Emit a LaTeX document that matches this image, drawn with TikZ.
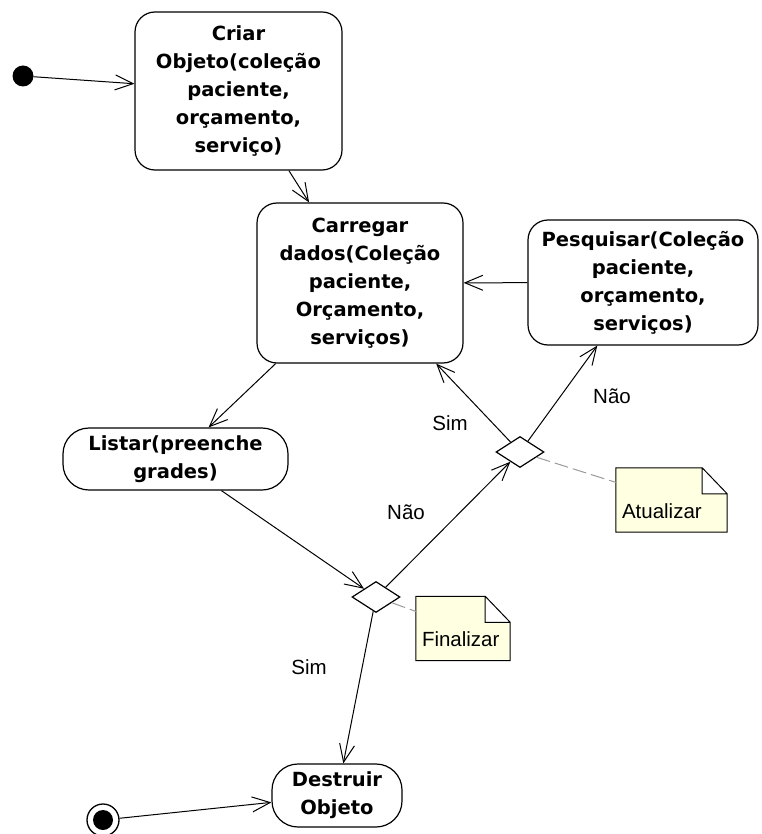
\documentclass[tikz,border=0pt]{standalone}
\usepackage{fontspec}
\setmainfont{Liberation Sans}
\newfontfamily\boxfont{DejaVu Sans}
\usepackage{tikz}
\usetikzlibrary{arrows.meta,positioning,shapes.geometric,backgrounds}
\definecolor{notefill}{RGB}{255,255,225}
\definecolor{tieline}{gray}{0.6}

\begin{document}
\begin{tikzpicture}[x=1pt,y=-1pt,
  estado/.style={draw,line width=1.2pt,rounded corners=20pt,align=center,inner sep=0pt,font=\boxfont\bfseries\fontsize{19.5}{28}\selectfont},
  atividade/.style={estado,rounded corners=26pt},
  escolha/.style={draw,line width=1.2pt,diamond,inner sep=0pt,minimum width=48pt,minimum height=31pt},
  nota/.style={align=left,inner xsep=6pt,inner ysep=14pt,text height=36pt,text depth=0pt,font=\fontsize{20.5}{24}\selectfont},
  guarda/.style={font=\fontsize{20.5}{24}\selectfont},
  fluxo/.style={line width=1pt,-{Straight Barb[length=18pt,width=15pt]}},
  ligacao/.style={draw=tieline,line width=1pt,dash pattern=on 14pt off 5pt}]
\useasboundingbox (0,0) rectangle (761,834);
\node[circle,fill,minimum size=21pt,inner sep=0pt] (inicio) at (23,76) {};
\node[estado,minimum width=207pt,minimum height=158pt] (criar) at (238.5,91) {Criar\\Objeto(coleção\\paciente,\\orçamento,\\serviço)};
\node[estado,minimum width=206pt,minimum height=160pt] (carregar) at (360,283) {Carregar\\dados(Coleção\\paciente,\\Orçamento,\\serviços)};
\node[estado,minimum width=230pt,minimum height=125pt] (pesquisar) at (643,282.5) {Pesquisar(Coleção\\paciente,\\orçamento,\\serviços)};
\node[atividade,minimum width=225pt,minimum height=62pt] (listar) at (175.5,459) {Listar(preenche\\grades)};
\node[escolha] (atualiza) at (520,452) {};
\node[escolha] (finaliza) at (376,597) {};
\node[nota,text width=99pt] (natualizar) at (671.5,500) {Atualizar};
\node[nota,text width=82pt] (nfinalizar) at (463,628.5) {Finalizar};
\node[atividade,minimum width=130pt,minimum height=63pt] (destruir) at (337,795.5) {Destruir\\Objeto};
\node[circle,draw,line width=1.3pt,minimum size=32pt,inner sep=0pt] (fim) at (103,820) {};
\fill (fim.center) circle (10pt);
\begin{scope}[on background layer]
\foreach \n in {natualizar,nfinalizar}
  \draw[line width=1pt,fill=notefill] (\n.south west) -- (\n.north west) -- ([xshift=-25pt]\n.north east) -- ([yshift=-26pt]\n.north east) -- (\n.south east) -- cycle
    ([xshift=-25pt]\n.north east) |- ([yshift=-26pt]\n.north east);
\end{scope}
\draw[fluxo] (inicio) -- (criar);
\draw[fluxo] (criar) -- (carregar);
\draw[fluxo] (pesquisar) -- (carregar);
\draw[fluxo] (carregar) -- (listar);
\draw[fluxo] (listar) -- (finaliza);
\draw[fluxo] (finaliza) -- (atualiza);
\draw[fluxo] (atualiza) -- (carregar);
\draw[fluxo] (atualiza) -- (pesquisar);
\draw[fluxo] (finaliza) -- (destruir);
\draw[fluxo] (fim) -- (destruir);
\draw[ligacao] (atualiza) -- (natualizar);
\draw[ligacao] (finaliza) -- (nfinalizar);
\node[guarda] (simcarregar) at (450,423) {Sim};
\node[guarda] (naopesquisar) at (612,396) {Não};
\node[guarda] (naoatualiza) at (406,512) {Não};
\node[guarda] (simdestruir) at (309,667) {Sim};
\end{tikzpicture}
\end{document}
